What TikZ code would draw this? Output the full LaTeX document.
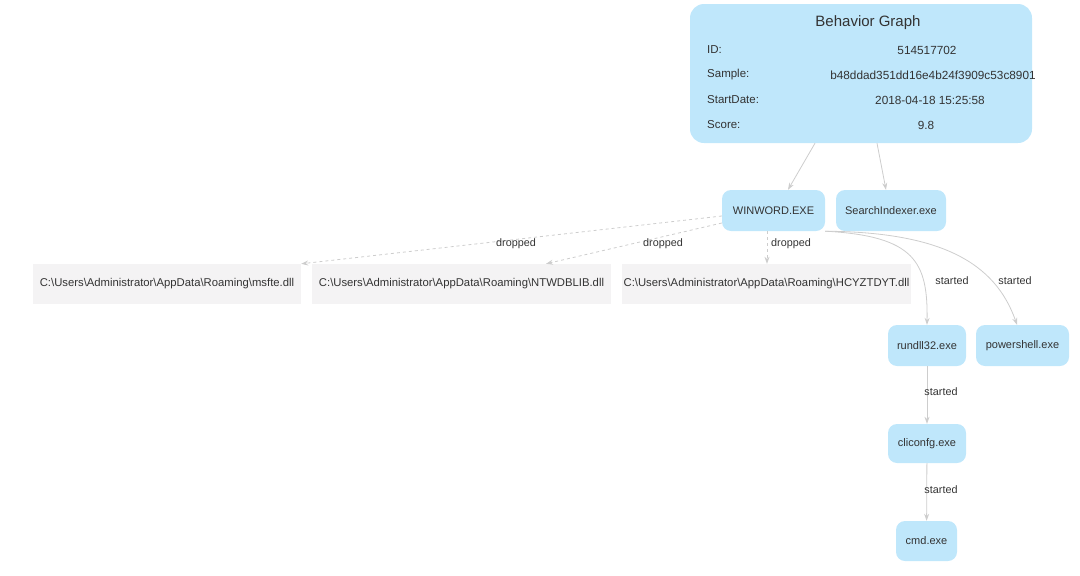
\documentclass[tikz,border=0pt]{standalone}
\usepackage{fontspec}
\setmainfont{Liberation Sans}
\usetikzlibrary{arrows.meta}
\definecolor{procblue}{HTML}{BFE7FB}
\definecolor{filegray}{HTML}{F4F3F4}
\definecolor{edgegray}{HTML}{CDCDCD}
\definecolor{txtgray}{HTML}{333333}
\begin{document}
\begin{tikzpicture}[x=1pt, y=-1pt,
    proc/.style = {fill=procblue, rounded corners=9pt, minimum height=41pt, inner xsep=0pt, text=txtgray, font=\fontsize{11}{13}\selectfont},
    file/.style = {fill=filegray, minimum height=40pt, inner xsep=0pt, text=txtgray, font=\fontsize{11.3}{13}\selectfont},
    info/.style = {text=txtgray, font=\fontsize{11.5}{13}\selectfont, inner sep=0pt},
    val/.style = {text=txtgray, font=\fontsize{11.8}{14}\selectfont, inner sep=0pt},
    lbl/.style = {text=txtgray, font=\fontsize{10.8}{13}\selectfont, inner sep=1pt},
    edge/.style = {edgegray, line width=0.8pt, -{Stealth[length=7pt,width=5pt]}}]
    \useasboundingbox (0,0) rectangle (1080,576);

    % summary box
    \node[fill=procblue, rounded corners=14pt, minimum width=342pt, minimum height=139pt] (bg) at (861,73.5) {};
    \node[text=txtgray, font=\fontsize{15}{17}\selectfont] (title) at (868,22.5) {Behavior Graph};
    \node[info, anchor=west] (idk) at (707,50) {ID:};
    \node[info, anchor=west] (smk) at (707,75) {Sample:};
    \node[info, anchor=west] (sdk) at (707,100) {StartDate:};
    \node[info, anchor=west] (sck) at (707,125) {Score:};
    \node[val] (idv) at (927,50) {514517702};
    \node[val] (smv) at (933,75) {b48ddad351dd16e4b24f3909c53c8901};
    \node[val] (sdv) at (930,100) {2018-04-18 15:25:58};
    \node[val] (scv) at (926,125) {9.8};

    % processes
    \node[proc, minimum width=103pt] (win) at (773.5,210.5) {WINWORD.EXE};
    \node[proc, minimum width=110pt] (srch) at (891,210.5) {SearchIndexer.exe};
    \node[proc, minimum width=78pt] (run) at (927,345.5) {rundll32.exe};
    \node[proc, minimum width=93pt] (psh) at (1022.5,345.5) {powershell.exe};
    \node[proc, minimum width=78pt, minimum height=39pt] (cli) at (927,443.5) {cliconfg.exe};
    \node[proc, minimum width=61pt, minimum height=40pt] (cmd) at (926.5,541) {cmd.exe};

    % dropped files
    \node[file, minimum width=268pt] (dlla) at (167,284) {C:\textbackslash Users\textbackslash Administrator\textbackslash AppData\textbackslash Roaming\textbackslash msfte.dll};
    \node[file, minimum width=299pt] (dllb) at (461.5,284) {C:\textbackslash Users\textbackslash Administrator\textbackslash AppData\textbackslash Roaming\textbackslash NTWDBLIB.dll};
    \node[file, minimum width=289pt] (dllc) at (766.5,284) {C:\textbackslash Users\textbackslash Administrator\textbackslash AppData\textbackslash Roaming\textbackslash HCYZTDYT.dll};

    % edges
    \draw[edge] (bg.south -| 815,0) -- (win.north -| 788,0);
    \draw[edge] (bg.south -| 877,0) -- (srch.north -| 886,0);
    \draw[edge, dashed] (win.west |- 0,216) -- (dlla.north east);
    \draw[edge, dashed] (win.west |- 0,223) -- (dllb.north east -| 546,0);
    \draw[edge, dashed] (win.south -| 767,0) -- (dllc.north -| 767,0);
    \draw[edge] (win.south east) .. controls (915,236) and (928,262) .. (run.north);
    \draw[edge] (win.south east) .. controls (940,232) and (995,262) .. (psh.north -| 1017,0);
    \draw[edge] (run) -- (cli);
    \draw[edge] (cli) -- (cmd);

    % edge labels
    \node[lbl] (la) at (516,244) {dropped};
    \node[lbl] (lb) at (663,244) {dropped};
    \node[lbl] (lc) at (791,244) {dropped};
    \node[lbl] (ld) at (952,281) {started};
    \node[lbl] (le) at (1015,281) {started};
    \node[lbl] (lf) at (941,392) {started};
    \node[lbl] (lg) at (941,490) {started};
\end{tikzpicture}
\end{document}
